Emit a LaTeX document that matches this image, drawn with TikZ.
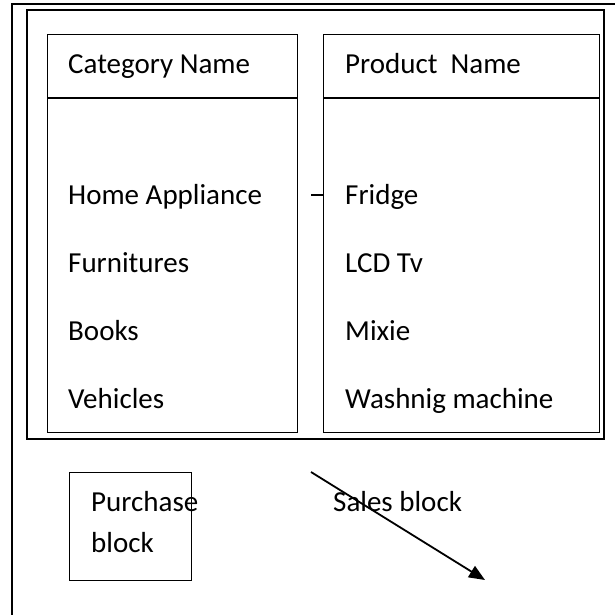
\documentclass[tikz,border=0pt]{standalone}
\usepackage{fontspec}
\setmainfont{Carlito}
\usetikzlibrary{arrows.meta}
\begin{document}
\begin{tikzpicture}[x=1pt,y=-1pt,
  thickframe/.style={line width=2.2pt},
  colbox/.style={draw,line width=1.4pt,rectangle,inner sep=0pt},
  lbl/.style={anchor=base west,inner sep=0pt,font=\fontsize{29}{33}\selectfont},
]
\useasboundingbox (0,0) rectangle (615,615);
% outer frame (left and top edges visible)
\coordinate (otl) at (12,4);
\coordinate (otr) at (620,4);
\coordinate (obl) at (12,620);
\draw[thickframe] (otr) -- (otl) -- (obl);
% inner frame
\node[draw,thickframe,rectangle,minimum width=577pt,minimum height=429pt,anchor=north west,inner sep=0pt] (inner) at (26,9) {};
% category column
\node[colbox,minimum width=250pt,minimum height=398pt,anchor=north west] (cat) at (47,34) {};
\draw[line width=1.4pt] (47,98) -- (297,98);
% product column
\node[colbox,minimum width=276pt,minimum height=398pt,anchor=north west] (prod) at (323,34) {};
\draw[line width=1.4pt] (323,98) -- (599,98);
% texts
\node[lbl] (ch) at (68,74) {Category Name};
\node[lbl] (c1) at (68,204) {Home Appliance};
\node[lbl] (c2) at (68,272) {Furnitures};
\node[lbl] (c3) at (68,340) {Books};
\node[lbl] (c4) at (68,408) {Vehicles};
\node[lbl] (ph) at (345,74) {Product\ \ Name};
\node[lbl] (p1) at (345,204) {Fridge};
\node[lbl] (p2) at (345,272) {LCD Tv};
\node[lbl] (p3) at (345,340) {Mixie};
\node[lbl] (p4) at (345,408) {Washnig machine};
% small tick
\coordinate (tk) at (311,195);
\draw[line width=1.3pt] (tk) -- (prod.west |- tk);
% purchase block
\node[colbox,minimum width=122pt,minimum height=108pt,anchor=north west] (pur) at (69,472) {};
\node[lbl] (pt1) at (91,511) {Purchase};
\node[lbl] (pt2) at (91,552) {block};
% sales
\node[lbl] (sal) at (333,511) {Sales block};
\coordinate (as) at (311,472);
\coordinate (ae) at (485,580);
\draw[line width=1.8pt,-{Triangle[length=16pt,width=13pt]}] (as) -- (ae);
\end{tikzpicture}
\end{document}
